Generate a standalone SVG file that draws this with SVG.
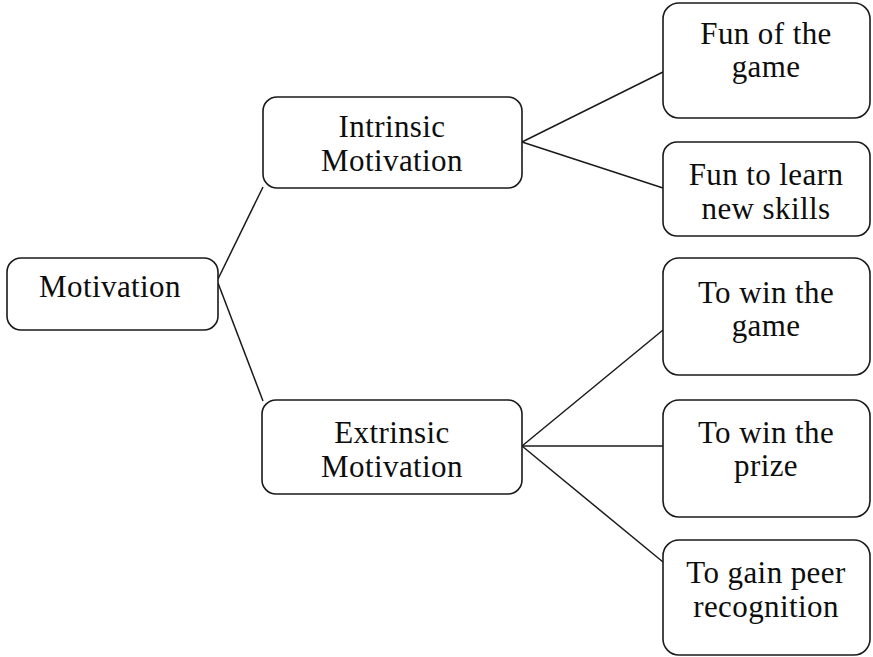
<svg xmlns="http://www.w3.org/2000/svg" width="873" height="657" viewBox="0 0 873 657">
<style>
.box{fill:#fff;stroke:#1a1a1a;stroke-width:1.6}
.lbl{font-family:"Liberation Serif","Times New Roman",serif;font-size:31px;letter-spacing:0.4px;fill:#0d0d0d;text-anchor:middle}
.conn line{stroke:#1a1a1a;stroke-width:1.5}
</style>
<rect width="873" height="657" fill="#fff"/>
<g id="connectors" class="conn">
<line x1="218" y1="279" x2="263" y2="187"/>
<line x1="218" y1="283" x2="263" y2="401"/>
<line x1="522" y1="142" x2="663" y2="72"/>
<line x1="522" y1="142" x2="663" y2="188"/>
<line x1="522" y1="446" x2="663" y2="330"/>
<line x1="522" y1="446" x2="663" y2="446"/>
<line x1="522" y1="446" x2="663" y2="562"/>
</g>
<g id="motivation"><rect class="box" x="7" y="258" width="211" height="72" rx="14"/><text class="lbl" x="110" y="297">Motivation</text></g>
<g id="intrinsic"><rect class="box" x="263" y="97" width="259" height="91" rx="14"/><text class="lbl" x="392" y="137">Intrinsic</text><text class="lbl" x="392" y="171">Motivation</text></g>
<g id="extrinsic"><rect class="box" x="262" y="400" width="260" height="94" rx="14"/><text class="lbl" x="392" y="443">Extrinsic</text><text class="lbl" x="392" y="477">Motivation</text></g>
<g id="fun-game"><rect class="box" x="663" y="3" width="207" height="115" rx="16"/><text class="lbl" x="766" y="44">Fun of the</text><text class="lbl" x="766" y="77">game</text></g>
<g id="fun-learn"><rect class="box" x="663" y="142" width="207" height="94" rx="14"/><text class="lbl" x="766" y="185">Fun to learn</text><text class="lbl" x="766" y="219">new skills</text></g>
<g id="win-game"><rect class="box" x="663" y="258" width="207" height="117" rx="16"/><text class="lbl" x="766" y="303">To win the</text><text class="lbl" x="766" y="336">game</text></g>
<g id="win-prize"><rect class="box" x="663" y="400" width="207" height="117" rx="16"/><text class="lbl" x="766" y="443">To win the</text><text class="lbl" x="766" y="476">prize</text></g>
<g id="peer"><rect class="box" x="663" y="540" width="207" height="115" rx="16"/><text class="lbl" x="766" y="583">To gain peer</text><text class="lbl" x="766" y="617">recognition</text></g>
</svg>
